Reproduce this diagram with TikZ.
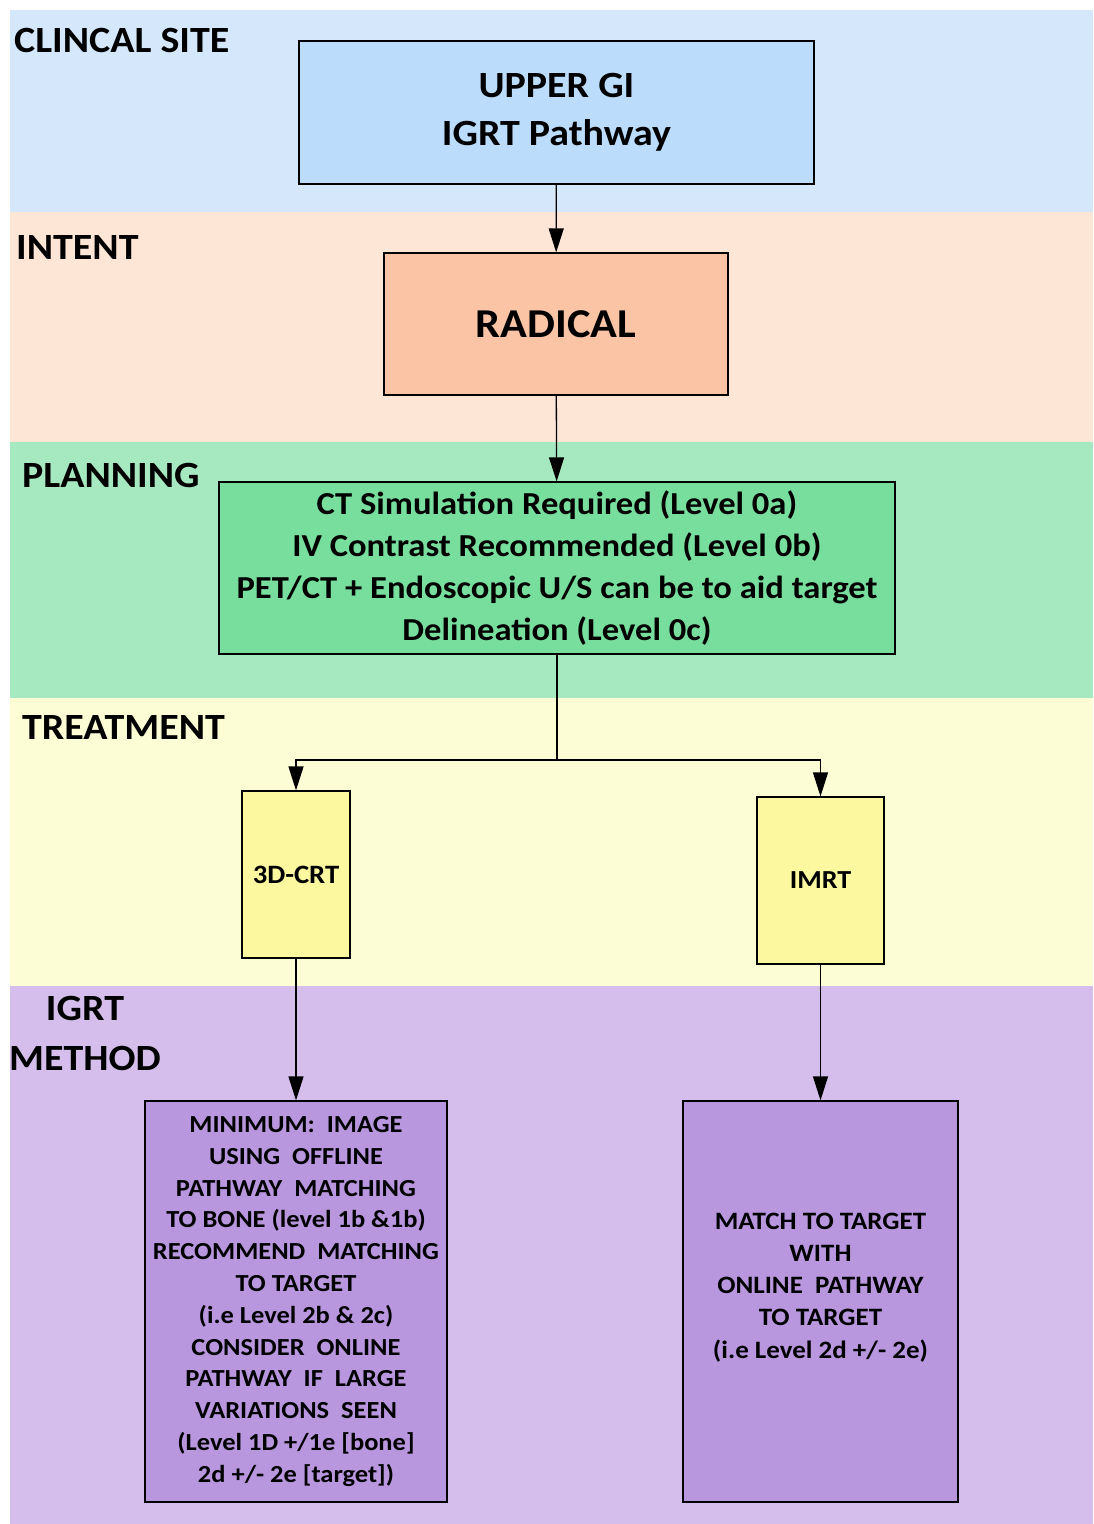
\documentclass[tikz,border=0pt]{standalone}
\usepackage{fontspec}
\setmainfont{Carlito}[FakeStretch=1.08]
\usepackage{xcolor}
\usetikzlibrary{arrows.meta}

\definecolor{bandblue}{RGB}{213,232,251}
\definecolor{boxblue}{RGB}{187,220,251}
\definecolor{bandpeach}{RGB}{253,230,214}
\definecolor{boxsalmon}{RGB}{250,196,165}
\definecolor{bandgreen}{RGB}{166,233,193}
\definecolor{boxgreen}{RGB}{120,222,158}
\definecolor{bandyellow}{RGB}{253,253,213}
\definecolor{boxyellow}{RGB}{251,248,160}
\definecolor{bandpurple}{RGB}{213,190,235}
\definecolor{boxpurple}{RGB}{185,151,222}

\tikzset{
  stagebox/.style={draw=black,line width=1.3pt,align=center,font=\bfseries,inner sep=0pt},
  bandlabel/.style={font=\fontsize{37}{50}\selectfont\bfseries,align=center,inner sep=0pt},
  arr/.style={-{Triangle[length=24pt,width=15pt]},line width=1.3pt}
}

\begin{document}
\begin{tikzpicture}[x=1pt,y=-1pt]
\useasboundingbox (0,0) rectangle (1093,1524);
% bands
\fill[bandblue] (10,10) rectangle (1093,212);
\fill[bandpeach] (10,212) rectangle (1093,442);
\fill[bandgreen] (10,442) rectangle (1093,698);
\fill[bandyellow] (10,698) rectangle (1093,986);
\fill[bandpurple] (10,986) rectangle (1093,1524);
\node[bandlabel,anchor=west] (lsite) at (14,40){CLINCAL SITE};
\node[bandlabel,anchor=west] (lintent) at (16,247){INTENT};
\node[bandlabel,anchor=west] (lplan) at (22,475){PLANNING};
\node[bandlabel,anchor=west] (ltreat) at (22,727){TREATMENT};
\node[bandlabel] (lmethod) at (85,1033){IGRT\\METHOD};
% boxes
\node[stagebox,fill=boxblue,minimum width=515pt,minimum height=143pt,
  font=\fontsize{37}{48}\selectfont\bfseries] (site) at (556.5,112.5){UPPER GI\\IGRT Pathway};
\node[stagebox,fill=boxsalmon,minimum width=344pt,minimum height=142pt,
  font=\fontsize{41}{46}\selectfont\bfseries] (intent) at (556,324){RADICAL};
\node[stagebox,fill=boxgreen,minimum width=676pt,minimum height=172pt,
  font=\fontsize{32}{41.7}\selectfont\bfseries] (plan) at (557,568){CT Simulation Required (Level 0a)\\IV Contrast Recommended (Level 0b)\\PET/CT + Endoscopic U/S can be to aid target\\Delineation (Level 0c)};
\node[stagebox,fill=boxyellow,minimum width=108pt,minimum height=167pt,
  font=\fontsize{26.5}{30}\selectfont\bfseries] (crt) at (296,874.5){3D-CRT};
\node[stagebox,fill=boxyellow,minimum width=127pt,minimum height=167pt,
  font=\fontsize{26}{30}\selectfont\bfseries] (imrt) at (820.5,880.5){IMRT};
\node[stagebox,fill=boxpurple,minimum width=302pt,minimum height=401pt,
  font=\fontsize{24.5}{31.8}\selectfont\bfseries] (offline) at (296,1301.5){MINIMUM:\ \ IMAGE\\USING\ \ OFFLINE\\PATHWAY\ \ MATCHING\\TO BONE (level 1b \&1b)\\RECOMMEND\ \ MATCHING\\TO TARGET\\(i.e Level 2b \& 2c)\\CONSIDER\ \ ONLINE\\PATHWAY\ \ IF\ \ LARGE\\VARIATIONS\ \ SEEN\\(Level 1D +/1e [bone]\\2d +/- 2e [target])};
\node[stagebox,fill=boxpurple,minimum width=275pt,minimum height=401pt,text depth=32pt,
  font=\fontsize{25}{32.2}\selectfont\bfseries] (online) at (820.5,1301.5){MATCH TO TARGET\\WITH\\ONLINE\ \ PATHWAY\\TO TARGET\\(i.e Level 2d +/- 2e)};
% connectors
\coordinate (split) at (557,760);
\draw[arr] (site) -- (intent);
\draw[arr] (intent) -- (plan);
\draw[line width=1.3pt] (plan) -- (split);
\draw[arr] (split) -| (crt.north);
\draw[arr] (split) -| (imrt.north);
\draw[arr] (crt) -- (offline);
\draw[arr] (imrt) -- (online);
\end{tikzpicture}
\end{document}
